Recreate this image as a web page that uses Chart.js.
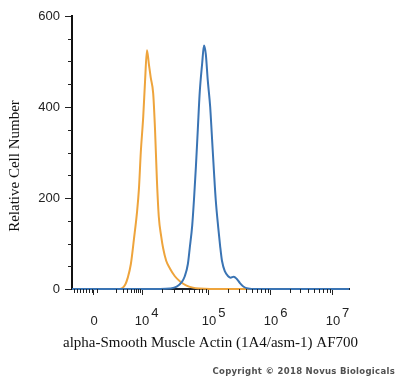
<!DOCTYPE html>
<html>
<head>
<meta charset="utf-8">
<script src="https://cdn.jsdelivr.net/npm/chart.js@4.4.1/dist/chart.umd.min.js"></script>
<style>
  html, body { margin: 0; padding: 0; background: #fff; }
</style>
</head>
<body>
<canvas id="histChart" width="400" height="378"></canvas>
<script>
// x values are in display units of the biexponential axis (5 = 10^5, 6 = 10^6 ...)
const xTickPos = [3.13, 3.92, 5, 6, 7];
const xTickBase = ['0', '10', '10', '10', '10'];
const xTickExp = ['', '4', '5', '6', '7'];
const yTicks = [0, 200, 400, 600];

// alpha-SMA stained cells (blue)
const stainedX = [2.79, 4.21, 4.37, 4.48, 4.56, 4.61, 4.66, 4.69, 4.73, 4.76, 4.79, 4.82, 4.85, 4.89, 4.92, 4.95, 4.98,
                  5.02, 5.05, 5.08, 5.11, 5.15, 5.18, 5.21, 5.26, 5.31, 5.35, 5.40, 5.45, 5.50, 5.56, 5.63, 5.69, 7.26];
const stainedY = [0, 0, 1, 5, 15, 28, 55, 90, 140, 200, 270, 350, 430, 495, 535, 515, 460,
                  400, 330, 260, 195, 135, 95, 62, 38, 28, 25, 27, 22, 13, 5, 1, 0, 0];

// isotype control (orange)
const isotypeX = [2.79, 3.40, 3.56, 3.65, 3.69, 3.74, 3.79, 3.84, 3.87, 3.90, 3.94, 3.97, 4.00, 4.03, 4.06, 4.10,
                  4.13, 4.16, 4.19, 4.23, 4.26, 4.31, 4.37, 4.45, 4.53, 4.63, 4.74, 4.85, 5.02, 7.26];
const isotypeY = [0, 0, 0, 10, 25, 55, 110, 170, 220, 300, 380, 460, 525, 495, 465, 430,
                  350, 240, 160, 115, 90, 62, 45, 28, 17, 8, 3, 1, 0, 0];

const xTitle = 'alpha-Smooth Muscle Actin (1A4/asm-1) AF700';
const yTitle = 'Relative Cell Number';
const copyright = 'Copyright \u00A9 2018 Novus Biologicals';

function toPoints(xs, ys) {
    return xs.map((x, i) => ({ x: x, y: ys[i] }));
}

// minor tick positions (log style), built from the major ticks
function minorXTicks() {
    const out = [];
    for (let k = 2; k <= 9; k++) {
        out.push(6 + Math.log10(k));
        out.push(5 + Math.log10(k));
        out.push(3.92 + 1.08 * Math.log10(k));
        out.push(3.92 + 0.594 * (Math.log10(k) - 1));
    }
    for (let u = 2.82; u < 3.13; u += 0.05) out.push(u);
    out.push(3.2);
    return out;
}

const decorPlugin = {
    id: 'decor',
    afterDraw(chart) {
        const { ctx, chartArea, scales: { x, y } } = chart;
        ctx.save();
        ctx.strokeStyle = '#222';
        ctx.lineWidth = 1;
        ctx.beginPath();
        for (let v = 50; v < 600; v += 50) {
            if (v % 200 === 0) continue;
            const py = Math.round(y.getPixelForValue(v)) + 0.5;
            ctx.moveTo(chartArea.left - 4, py);
            ctx.lineTo(chartArea.left, py);
        }
        minorXTicks().forEach(u => {
            const px = Math.round(x.getPixelForValue(u)) + 0.5;
            ctx.moveTo(px, chartArea.bottom);
            ctx.lineTo(px, chartArea.bottom + 4);
        });
        ctx.stroke();

        // x tick labels with superscripts
        ctx.fillStyle = '#222';
        ctx.font = '13px "Liberation Sans", Arial, sans-serif';
        ctx.textBaseline = 'alphabetic';
        xTickPos.forEach((u, i) => {
            const px = x.getPixelForValue(u);
            const w = ctx.measureText(xTickBase[i]).width;
            ctx.textAlign = 'center';
            ctx.fillText(xTickBase[i], i === 0 ? px + 1 : px, 325);
            if (xTickExp[i]) {
                ctx.textAlign = 'left';
                ctx.fillText(xTickExp[i], px + w / 2 + 2, 317);
            }
        });

        // axis titles
        ctx.fillStyle = '#111';
        ctx.font = '15px "Liberation Serif", "Times New Roman", serif';
        ctx.textAlign = 'center';
        ctx.fillText(xTitle, (chartArea.left + chartArea.right) / 2, 347);
        ctx.save();
        ctx.translate(19, 166);
        ctx.rotate(-Math.PI / 2);
        ctx.fillText(yTitle, 0, 0);
        ctx.restore();

        // copyright
        ctx.fillStyle = '#505050';
        ctx.font = 'bold 8.5px "DejaVu Sans", sans-serif';
        ctx.letterSpacing = '0.3px';
        ctx.textAlign = 'right';
        ctx.fillText(copyright, 395, 374);
        ctx.restore();
    }
};

const ctx = document.getElementById('histChart').getContext('2d');
const histChart = new Chart(ctx, {
    type: 'line',
    data: {
        datasets: [{
            label: 'alpha-SMA',
            data: toPoints(stainedX, stainedY),
            borderColor: '#3a74b4',
            borderWidth: 2,
            pointRadius: 0,
            cubicInterpolationMode: 'monotone',
            clip: false,
            fill: false
        }, {
            label: 'Isotype',
            data: toPoints(isotypeX, isotypeY),
            borderColor: '#eea43c',
            borderWidth: 2,
            pointRadius: 0,
            cubicInterpolationMode: 'monotone',
            clip: false,
            fill: false
        }]
    },
    options: {
        responsive: false,
        animation: false,
        layout: { padding: { top: 16, right: 51, left: 0, bottom: 0 } },
        plugins: {
            legend: { display: false },
            tooltip: { enabled: false }
        },
        scales: {
            x: {
                type: 'linear',
                min: 2.79,
                max: 7.26,
                afterBuildTicks: scale => {
                    scale.ticks = xTickPos.map(v => ({ value: v }));
                },
                afterFit: scale => { scale.height = 89; },
                ticks: { display: false },
                grid: { drawOnChartArea: false, drawTicks: true, tickLength: 6, color: '#222' },
                border: { display: true, color: '#1c2430', width: 2 }
            },
            y: {
                min: 0,
                max: 600,
                afterBuildTicks: scale => {
                    scale.ticks = yTicks.map(v => ({ value: v }));
                },
                afterFit: scale => { scale.width = 72; },
                ticks: {
                    color: '#222',
                    padding: 5,
                    font: { family: '"Liberation Sans", Arial, sans-serif', size: 13 }
                },
                grid: { drawOnChartArea: false, drawTicks: true, tickLength: 7, color: '#222' },
                border: { display: true, color: '#111', width: 2 }
            }
        }
    },
    plugins: [decorPlugin]
});
</script>
</body>
</html>
